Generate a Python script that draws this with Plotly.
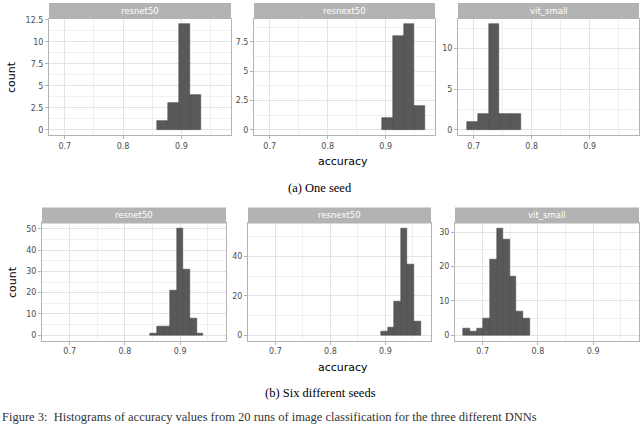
import plotly.graph_objects as go

W, H = 640, 424

models = ["resnet50", "resnext50", "vit_small"]

# (a) one seed: 20 runs per model, histogram bins
one_seed_start = [0.8586, 0.8936, 0.6887]
one_seed_width = 0.0186
one_seed_counts = [
    [1, 3, 12, 4],
    [1, 8, 9, 2],
    [1, 2, 13, 2, 2],
]

# (b) six different seeds: 120 runs per model
six_seed_start = [0.8459, 0.8920, 0.6651]
six_seed_width = 0.012
six_seed_counts = [
    [1, 4, 4, 21, 50, 31, 8, 1],
    [2, 4, 17, 54, 36, 7],
    [2, 1, 2, 5, 22, 31, 28, 17, 7, 5],
]

x_ticks = [0.7, 0.8, 0.9]
y_dtick_top = [2.5, 2.5, 5]
y_dtick_bottom = [10, 20, 10]

captions = ["(a) One seed", "(b) Six different seeds"]
fig_caption = ("Figure 3:  Histograms of accuracy values from 20 runs of image "
               "classification for the three different DNNs")

GRID = "#E3E3E3"
MINOR = "#F0F0F0"
BORDER = "#B3B3B3"
BAR = "#595959"

# pixel layout (left, right) of each panel and (top, bottom) of each row
cols_px = [
    [(49, 231), (254, 435), (458, 639)],
    [(42, 226), (248, 431), (455, 639)],
]
rows_px = [(16, 133), (222, 340)]
strip_h = 16
x_ranges = [[0.673, 0.985], [0.650, 0.983]]


def px_x(p):
    return p / W


def px_y(p):
    return 1 - p / H


fig = go.Figure()
layout = {}
shapes = []
annotations = []

rows = [
    (one_seed_start, one_seed_width, one_seed_counts, y_dtick_top),
    (six_seed_start, six_seed_width, six_seed_counts, y_dtick_bottom),
]

n = 0
for r, (starts, width, counts_all, dticks) in enumerate(rows):
    top, bottom = rows_px[r]
    for c, model in enumerate(models):
        n += 1
        xa = "x" if n == 1 else f"x{n}"
        ya = "y" if n == 1 else f"y{n}"
        counts = counts_all[c]
        centers = [starts[c] + width * (k + 0.5) for k in range(len(counts))]
        fig.add_trace(go.Bar(
            x=centers, y=counts, width=width, xaxis=xa, yaxis=ya,
            marker=dict(color=BAR, line=dict(color="#404040", width=0.5)),
            showlegend=False, hoverinfo="x+y",
        ))
        left, right = cols_px[r][c]
        ymax = max(counts)
        layout["xaxis" if n == 1 else f"xaxis{n}"] = dict(
            domain=[px_x(left), px_x(right)], anchor=ya,
            range=x_ranges[r], tickvals=x_ticks, ticktext=["0.7", "0.8", "0.9"],
            ticks="outside", ticklen=3, tickcolor=BORDER,
            showgrid=True, gridcolor=GRID, gridwidth=1,
            minor=dict(dtick=0.05, tick0=0.65, showgrid=True, gridcolor=MINOR,
                       gridwidth=1, ticks=""),
            showline=True, mirror=True, linecolor=BORDER, linewidth=1,
            zeroline=False,
            tickfont=dict(family="DejaVu Sans", size=8, color="#4D4D4D"),
        )
        layout["yaxis" if n == 1 else f"yaxis{n}"] = dict(
            domain=[px_y(bottom), px_y(top)], anchor=xa,
            range=[-0.05 * ymax, 1.05 * ymax], dtick=dticks[c], tick0=0,
            ticks="outside", ticklen=3, tickcolor=BORDER,
            showgrid=True, gridcolor=GRID, gridwidth=1,
            minor=dict(dtick=dticks[c] / 2, showgrid=True, gridcolor=MINOR,
                       gridwidth=1, ticks=""),
            showline=True, mirror=True, linecolor=BORDER, linewidth=1,
            zeroline=False,
            tickfont=dict(family="DejaVu Sans", size=8, color="#4D4D4D"),
        )
        # facet strip
        shapes.append(dict(
            type="rect", xref="paper", yref="paper",
            x0=px_x(left), x1=px_x(right),
            y0=px_y(top), y1=px_y(top - strip_h),
            fillcolor=BORDER, line=dict(width=0),
        ))
        annotations.append(dict(
            text=model, xref="paper", yref="paper",
            x=px_x((left + right) / 2), y=px_y(top - strip_h / 2),
            xanchor="center", yanchor="middle", showarrow=False,
            font=dict(family="DejaVu Sans", size=8.5, color="white"),
        ))
    # axis titles
    annotations.append(dict(
        text="count", xref="paper", yref="paper",
        x=px_x(12), y=px_y((top + bottom) / 2), textangle=-90,
        xanchor="center", yanchor="middle", showarrow=False,
        font=dict(family="DejaVu Sans", size=11, color="black"),
    ))
    annotations.append(dict(
        text="accuracy", xref="paper", yref="paper",
        x=px_x(343), y=px_y(bottom + 27),
        xanchor="center", yanchor="middle", showarrow=False,
        font=dict(family="DejaVu Sans", size=11, color="black"),
    ))
    annotations.append(dict(
        text=captions[r], xref="paper", yref="paper",
        x=px_x(320), y=px_y(bottom + 53),
        xanchor="center", yanchor="middle", showarrow=False,
        font=dict(family="Liberation Serif", size=12.5, color="black"),
    ))

annotations.append(dict(
    text=fig_caption, xref="paper", yref="paper",
    x=px_x(0), y=px_y(417),
    xanchor="left", yanchor="middle", showarrow=False,
    font=dict(family="Liberation Serif", size=12.5, color="#333333"),
))

fig.update_layout(
    width=W, height=H,
    margin=dict(l=0, r=0, t=0, b=0),
    paper_bgcolor="white", plot_bgcolor="white",
    bargap=0, shapes=shapes, annotations=annotations,
    **layout,
)

# drop the browser's default body margin so the 640x424 figure fits the window
fig.write_html("out.html",
               config={"displayModeBar": False},
               post_script="document.body.style.margin='0';"
                           "document.body.style.overflow='hidden';")
